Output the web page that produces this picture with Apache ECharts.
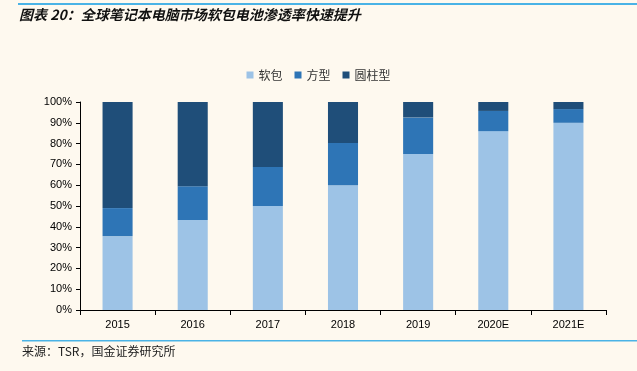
<!DOCTYPE html>
<html><head><meta charset="utf-8">
<script src="https://cdn.jsdelivr.net/npm/echarts@6/dist/echarts.min.js"></script>
<style>html,body{margin:0;padding:0;background:#FEF9EF;}#c{width:637px;height:371px;}</style>
</head><body><div id="c"></div>
<script>
var categories = ['2015','2016','2017','2018','2019','2020E','2021E'];
var softPack = [35.5, 43.3, 50, 60, 75, 86, 90];
var prismatic = [13.5, 16.2, 18.7, 20.3, 17.6, 9.7, 6.6];
var cylindrical = [51, 40.5, 31.3, 19.7, 7.4, 4.3, 3.4];
var seriesNames = ['软包', '方型', '圆柱型'];
var colors = ['#9DC3E6', '#2E75B6', '#1F4E79'];

var chart = echarts.init(document.getElementById('c'));
var font = '"Noto Sans CJK SC", sans-serif';
function mk(name, data, color) {
  return { name: name, type: 'bar', stack: 'total', data: data, barWidth: '40%',
    itemStyle: { color: color }, animation: false };
}
chart.setOption({
  backgroundColor: '#FEF9EF',
  animation: false,
  color: colors,
  grid: { left: 80, right: 31, top: 102, bottom: 61 },
  legend: {
    top: 64, left: 'center', itemWidth: 7, itemHeight: 7, itemGap: 12,
    icon: 'rect',
    textStyle: { fontFamily: font, fontSize: 12, color: '#333' },
    data: seriesNames
  },
  xAxis: {
    type: 'category', data: categories,
    axisLine: { lineStyle: { color: '#000', width: 1 } },
    axisTick: { show: true, length: 5, lineStyle: { color: '#000' } },
    axisLabel: { fontFamily: 'Liberation Sans, Arial, sans-serif', fontSize: 11, color: '#000', margin: 9 }
  },
  yAxis: {
    type: 'value', min: 0, max: 100, interval: 10,
    axisLine: { show: true, lineStyle: { color: '#000', width: 1 } },
    axisTick: { show: true, length: 4, lineStyle: { color: '#000' } },
    splitLine: { show: false },
    axisLabel: { formatter: '{value}%', fontFamily: 'Liberation Sans, Arial, sans-serif', fontSize: 11, color: '#000', margin: 8 }
  },
  series: [
    mk(seriesNames[0], softPack, colors[0]),
    mk(seriesNames[1], prismatic, colors[1]),
    mk(seriesNames[2], cylindrical, colors[2])
  ],
  graphic: [
    { type: 'rect', shape: { x: 18, y: 3, width: 619, height: 2 }, style: { fill: '#4AB3E6' } },
    { type: 'text', left: 19, top: 8, style: { text: '图表 20：全球笔记本电脑市场软包电池渗透率快速提升', fontFamily: font, fontSize: 14, fontWeight: 'bold', fontStyle: 'italic', fill: '#111' } },
    { type: 'rect', shape: { x: 22, y: 340, width: 615, height: 1.5 }, style: { fill: '#4AB3E6' } },
    { type: 'text', left: 22, top: 345, style: { text: '来源：TSR，国金证券研究所', fontFamily: font, fontSize: 12, fill: '#222' } }
  ]
});
</script></body></html>
